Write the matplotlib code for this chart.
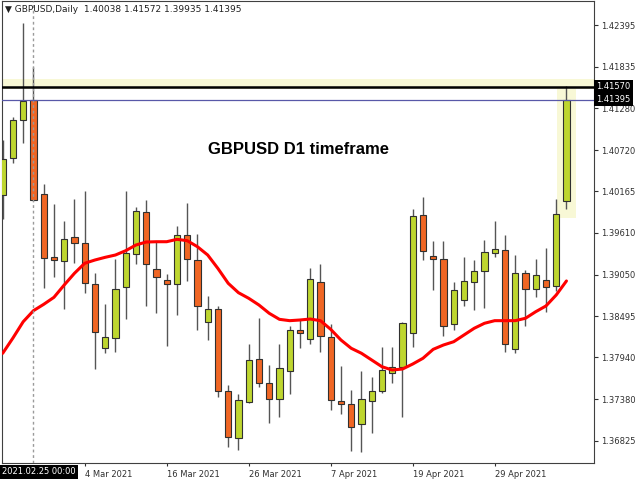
import matplotlib
matplotlib.use("Agg")
import matplotlib.pyplot as plt
import matplotlib.transforms as mtransforms
from matplotlib.patches import Rectangle
import pandas as pd
import numpy as np

# ---------------- data ----------------
symbol = "GBPUSD,Daily"
dates = pd.bdate_range("2021-02-22", periods=56)

opens = [1.40113, 1.40609, 1.41122, 1.41394, 1.40126, 1.39286, 1.39237, 1.39550, 1.39478, 1.38920,
         1.38063, 1.38201, 1.38880, 1.39322, 1.39885, 1.39125, 1.38978, 1.38920, 1.39581, 1.39246,
         1.38409, 1.38585, 1.37495, 1.36865, 1.37343, 1.37915, 1.37594, 1.37380, 1.37763, 1.38308,
         1.38183, 1.38951, 1.38210, 1.37357, 1.37313, 1.37044, 1.37353, 1.37495, 1.37728, 1.37816,
         1.38264, 1.39849, 1.39304, 1.39263, 1.38384, 1.38710, 1.38947, 1.39099, 1.39344, 1.39376,
         1.38049, 1.39076, 1.38853, 1.38978, 1.38902, 1.40038]
highs = [1.40854, 1.41166, 1.42422, 1.41832, 1.40260, 1.39996, 1.39773, 1.40063, 1.40171, 1.39068,
         1.38652, 1.39259, 1.40171, 1.39960, 1.40046, 1.39491, 1.39054, 1.39706, 1.40014, 1.39594,
         1.38764, 1.38634, 1.37567, 1.37446, 1.38120, 1.38465, 1.37835, 1.38120, 1.38366, 1.38442,
         1.39139, 1.39188, 1.38388, 1.37826, 1.37504, 1.37763, 1.37674, 1.38076, 1.38076, 1.38415,
         1.39925, 1.40094, 1.39501, 1.39501, 1.38951, 1.39290, 1.39246, 1.39514, 1.39765, 1.39585,
         1.39317, 1.39112, 1.39259, 1.39403, 1.40059, 1.41572]
lows = [1.39795, 1.40542, 1.40818, 1.40043, 1.38875, 1.39022, 1.38585, 1.39202, 1.38800, 1.37781,
        1.37996, 1.38009, 1.38451, 1.39188, 1.38630, 1.38532, 1.38094, 1.38509, 1.38969, 1.38308,
        1.38174, 1.37406, 1.36736, 1.36700, 1.37334, 1.37548, 1.37058, 1.37146, 1.37450, 1.38071,
        1.38120, 1.38009, 1.37236, 1.37178, 1.36691, 1.36677, 1.36932, 1.37468, 1.37602, 1.37146,
        1.38084, 1.39246, 1.38844, 1.38228, 1.38308, 1.38630, 1.38576, 1.38599, 1.39290, 1.38017,
        1.37996, 1.38366, 1.38754, 1.38553, 1.38835, 1.39935]
closes = [1.40599, 1.41122, 1.41381, 1.40054, 1.39269, 1.39246, 1.39523, 1.39478, 1.38934, 1.38285,
          1.38218, 1.38861, 1.39336, 1.39903, 1.39188, 1.39014, 1.38920, 1.39581, 1.39255, 1.38630,
          1.38585, 1.37491, 1.36870, 1.37366, 1.37906, 1.37594, 1.37383, 1.37795, 1.38308, 1.38264,
          1.38995, 1.38228, 1.37370, 1.37316, 1.37012, 1.37383, 1.37495, 1.37768, 1.37816, 1.38398,
          1.39840, 1.39367, 1.39259, 1.38366, 1.38844, 1.38961, 1.39103, 1.39357, 1.39393, 1.38120,
          1.39076, 1.38853, 1.39049, 1.38880, 1.39862, 1.41395]
ma = [1.37996, 1.38201, 1.38419, 1.38567, 1.38652, 1.38746, 1.38911, 1.39068, 1.39202, 1.39246,
      1.39282, 1.39313, 1.39371, 1.39447, 1.39487, 1.39491, 1.39491, 1.39523, 1.39505, 1.39424,
      1.39313, 1.39132, 1.38934, 1.38808, 1.38733, 1.38643, 1.38532, 1.38451, 1.38433, 1.38442,
      1.38455, 1.38433, 1.38317, 1.38174, 1.38063, 1.37996, 1.37906, 1.37816, 1.37772, 1.37785,
      1.37852, 1.37929, 1.38049, 1.38107, 1.38151, 1.38241, 1.38331, 1.38398, 1.38433, 1.38433,
      1.38433, 1.38465, 1.38553, 1.38630, 1.38777, 1.38965]

ytick_values = [1.42395, 1.41835, 1.41280, 1.40720, 1.40165, 1.39610,
                1.39050, 1.38495, 1.37940, 1.37380, 1.36825]
xtick_dates = ["2021-03-04", "2021-03-16", "2021-03-26", "2021-04-07", "2021-04-19", "2021-04-29"]
xtick_labels = ["4 Mar 2021", "16 Mar 2021", "26 Mar 2021", "7 Apr 2021", "19 Apr 2021", "29 Apr 2021"]

high_line = 1.41570
bid_line = 1.41395
cursor_date = "2021-02-25"
cursor_label = "2021.02.25 00:00"
title = "GBPUSD D1 timeframe"

# ---------------- figure ----------------
W, H = 640, 480
fig = plt.figure(figsize=(6.4, 4.8), dpi=100)
fig.patch.set_facecolor("white")
ax_l, ax_r, ax_t, ax_b = 2, 594, 1, 463
ax = fig.add_axes([ax_l / W, (H - ax_b) / H, (ax_r - ax_l) / W, (ax_b - ax_t) / H])

px = 0.000134  # price per pixel
ax.set_ylim(1.42395 - (ax_b - 25) * px, 1.42395 + (25 - ax_t) * px)
ax.set_xlim((ax_l - 2.7) / 10.25, (ax_r - 2.7) / 10.25)

x = np.arange(len(dates))
o = np.array(opens); c = np.array(closes); h = np.array(highs); l = np.array(lows)
up = c >= o

bull = "#bed62f"
bear = "#f06624"

# highlight band and box
ax.axhspan(1.41533, 1.41667, color="#f8f8d6", zorder=0, lw=0)
last = len(dates) - 1
ax.add_patch(Rectangle((last - 0.97, 1.39813), 1.95, 1.41533 - 1.39813,
                       facecolor="#f8f8d6", edgecolor="none", zorder=0))

# wicks
ax.vlines(x, l, h, color="#555555", lw=1.0, zorder=2)
# bodies
bottoms = np.minimum(o, c)
heights = np.maximum(np.abs(c - o), 0.00004)
ax.bar(x, heights, bottom=bottoms, width=0.62,
       color=np.where(up, bull, bear), edgecolor="#303030", linewidth=0.8, zorder=3)

# moving average
ax.plot(x, ma, color="#ff0000", lw=2.2, zorder=4, solid_capstyle="round")

# cursor line
ci = int(np.where(dates == pd.Timestamp(cursor_date))[0][0])
ax.axvline(ci, color="#9a9a9a", lw=1.0, linestyle=(0, (2, 2)), zorder=5)

# horizontal lines
ax.axhline(high_line, color="black", lw=1.8, zorder=6)
ax.axhline(bid_line, color="#5858a8", lw=0.9, zorder=6)

# title
ax.text(0.5, 0.678, title, transform=ax.transAxes, ha="center", va="center",
        fontsize=12, fontweight="bold", family="Liberation Sans", color="black", zorder=7)

# axes styling
for s in ax.spines.values():
    s.set_color("#404040")
    s.set_linewidth(0.8)
ax.yaxis.tick_right()
ax.set_yticks(ytick_values)
ax.set_yticklabels([f"{v:.5f}" for v in ytick_values])
ax.tick_params(axis="y", direction="out", length=3, width=0.8, labelsize=6,
               pad=2, colors="#303030")
xt = [int(np.where(dates == pd.Timestamp(d))[0][0]) for d in xtick_dates]
ax.set_xticks(xt)
ax.set_xticklabels(xtick_labels, ha="left")
ax.tick_params(axis="x", direction="out", length=2.5, width=0.8, labelsize=6,
               pad=2.5, colors="#303030")

# price labels on the right
trans = mtransforms.blended_transform_factory(ax.transAxes, ax.transData)
for val in (high_line, bid_line):
    ax.text(1.004, val, f"{val:.5f}", transform=trans, ha="left", va="center",
            fontsize=6, color="white", zorder=8, clip_on=False,
            bbox=dict(boxstyle="square,pad=0.25", facecolor="black", edgecolor="none"))

# cursor date label (bottom-left)
fig.text(2 / W, (H - 472) / H, cursor_label, ha="left", va="center",
         fontsize=6, color="white", zorder=8,
         bbox=dict(boxstyle="square,pad=0.25", facecolor="black", edgecolor="none"))

# header
fig.text(5 / W, 1 - 9 / H,
         f"\u25BC {symbol}  {opens[-1]:.5f} {highs[-1]:.5f} {lows[-1]:.5f} {closes[-1]:.5f}",
         ha="left", va="center", fontsize=6.5, color="#202020")

fig.savefig("out.png", dpi=100, facecolor="white")
